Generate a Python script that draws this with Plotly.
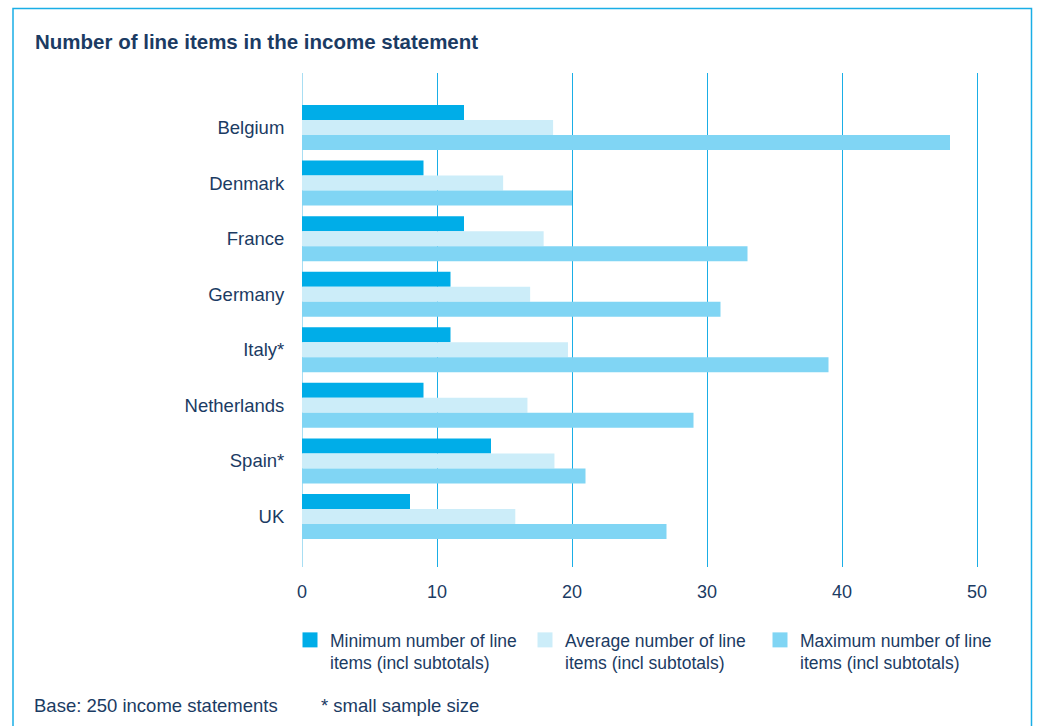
import plotly.graph_objects as go

countries = ["Belgium", "Denmark", "France", "Germany", "Italy*", "Netherlands", "Spain*", "UK"]
minimum = [12, 9, 12, 11, 11, 9, 14, 8]
average = [18.6, 14.9, 17.9, 16.9, 19.7, 16.7, 18.7, 15.8]
maximum = [48, 20, 33, 31, 39, 29, 21, 27]
series_names = [
    "Minimum number of line<br>items (incl subtotals)",
    "Average number of line<br>items (incl subtotals)",
    "Maximum number of line<br>items (incl subtotals)",
]
x_ticks = [0, 10, 20, 30, 40, 50]

TEXT = "#1b3b63"
FONT = "Liberation Sans"
colors = ["#00ade8", "#ccedf9", "#80d5f4"]

fig = go.Figure()
for name, vals, col in zip(series_names, [minimum, average, maximum], colors):
    fig.add_trace(go.Bar(
        y=countries, x=vals, name=name, orientation="h",
        marker=dict(color=col, line=dict(width=0)),
        showlegend=False,
    ))
# legend entries with larger square swatches
for name, col in zip(series_names, colors):
    fig.add_trace(go.Scatter(
        x=[None], y=[None], mode="markers", name=name,
        marker=dict(symbol="square", size=15, color=col, line=dict(width=0)),
        showlegend=True,
    ))

W, H = 1037, 726
L, R, T, B = 302, 1004, 73, 567
pw, ph = R - L, B - T

def px_x(x):
    return (x - L) / pw

def px_y(y):
    return (B - y) / ph

fig.update_layout(
    width=W, height=H,
    margin=dict(l=L, r=W - R, t=T, b=H - B, pad=0),
    paper_bgcolor="white", plot_bgcolor="white",
    barmode="group", bargap=0.19, bargroupgap=0,
    font=dict(family=FONT, color=TEXT, size=18),
    title=dict(
        text="<b>Number of line items in the income statement</b>",
        x=35 / W, xanchor="left", xref="container",
        y=1 - 42 / H, yanchor="middle", yref="container",
        font=dict(size=20.5, color=TEXT, family=FONT),
    ),
    xaxis=dict(
        range=[0, 52], tickvals=x_ticks, ticktext=[str(v) for v in x_ticks],
        showgrid=True, gridcolor="#1aaee6", gridwidth=1.3,
        zeroline=True, zerolinecolor="#a8def3", zerolinewidth=1.3,
        ticks="outside", ticklen=8, tickcolor="rgba(0,0,0,0)",
        tickfont=dict(size=18, color=TEXT), showline=False,
        fixedrange=True,
    ),
    yaxis=dict(
        type="category", categoryorder="array", categoryarray=countries,
        range=[7.909, -0.981],
        showgrid=False, zeroline=False, showline=False,
        ticks="outside", ticklen=13, tickcolor="rgba(0,0,0,0)",
        tickfont=dict(size=18.5, color=TEXT),
        fixedrange=True,
    ),
    legend=dict(
        orientation="h", x=px_x(290), xanchor="left",
        y=px_y(622), yanchor="top",
        valign="top", traceorder="normal",
        entrywidth=190, entrywidthmode="pixels",
        font=dict(size=17.5, color=TEXT, family=FONT),
        bgcolor="rgba(0,0,0,0)",
    ),
    showlegend=True,
)

fig.add_annotation(
    text="Base: 250 income statements", xref="paper", yref="paper",
    x=px_x(32), y=px_y(705), xanchor="left", yanchor="middle",
    showarrow=False, font=dict(size=18.5, color=TEXT, family=FONT),
)
fig.add_annotation(
    text="* small sample size", xref="paper", yref="paper",
    x=px_x(319), y=px_y(705), xanchor="left", yanchor="middle",
    showarrow=False, font=dict(size=18.5, color=TEXT, family=FONT),
)
fig.add_shape(
    type="rect", xref="paper", yref="paper",
    x0=px_x(13), x1=px_x(1031.5), y0=px_y(740), y1=px_y(8.5),
    line=dict(color="#1aaee6", width=1.5), fillcolor="rgba(0,0,0,0)",
    layer="below",
)

fig.write_html(
    "out.html",
    config={"displayModeBar": False},
    post_script="document.body.style.margin='0';document.body.style.overflow='hidden';",
)
